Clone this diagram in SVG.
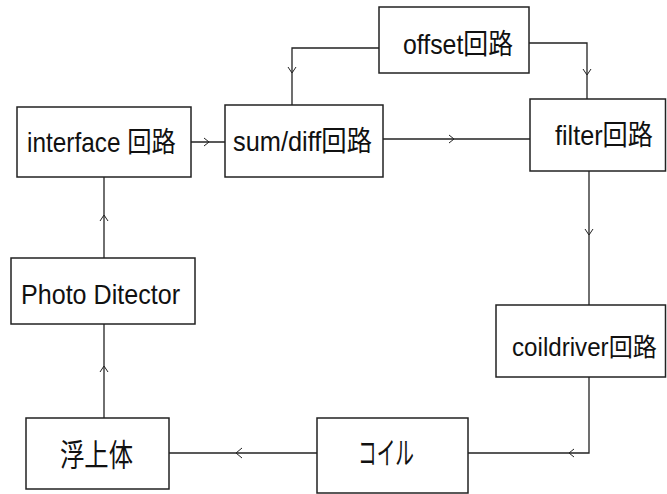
<svg xmlns="http://www.w3.org/2000/svg" width="667" height="494" viewBox="0 0 667 494">
<style>
.box{fill:#fff;stroke:#222;stroke-width:1.5}
.lbl{font-family:"Liberation Sans","Noto Sans CJK JP",sans-serif;font-size:28px;fill:#111;dominant-baseline:central}
.jp{font-size:31px}
.sm{font-size:25.5px}
.ln{fill:none;stroke:#222;stroke-width:1.3}
.hd{fill:none;stroke:#222;stroke-width:1}
</style>
<rect width="667" height="494" fill="#fff"/>
<g id="connectors">
<path class="ln" d="M191 142H225"/><path class="hd" d="M204 138L209 142L204 146"/>
<path class="ln" d="M292 105V48H379"/><path class="hd" d="M288 67L292 73L296 67"/>
<path class="ln" d="M529 43H587V99"/><path class="hd" d="M583 69L587 75L591 69"/>
<path class="ln" d="M383 139H530"/><path class="hd" d="M449 135L454 139L449 143"/>
<path class="ln" d="M589 171V305"/><path class="hd" d="M585 229L589 235L593 229"/>
<path class="ln" d="M589 377V453H468"/><path class="hd" d="M574 449L569 453L574 457"/>
<path class="ln" d="M317 453H169"/><path class="hd" d="M242 448L236 453L242 458"/>
<path class="ln" d="M104 418V324"/><path class="hd" d="M100 372L104 366L108 372"/>
<path class="ln" d="M104 258V177"/><path class="hd" d="M100 221L104 215L108 221"/>
</g>
<g id="interface"><rect class="box" x="17" y="107" width="174" height="70"/><text class="lbl" x="27" y="142" textLength="149" lengthAdjust="spacingAndGlyphs">interface 回路</text></g>
<g id="sumdiff"><rect class="box" x="225" y="105" width="158" height="72"/><text class="lbl" x="233" y="141" textLength="139" lengthAdjust="spacingAndGlyphs">sum/diff回路</text></g>
<g id="offset"><rect class="box" x="379" y="7" width="150" height="66"/><text class="lbl" x="403" y="44" textLength="110" lengthAdjust="spacingAndGlyphs">offset回路</text></g>
<g id="filter"><rect class="box" x="530" y="99" width="135.5" height="72"/><text class="lbl" x="555" y="135" textLength="98" lengthAdjust="spacingAndGlyphs">filter回路</text></g>
<g id="coildriver"><rect class="box" x="496" y="305" width="169.5" height="72"/><text class="lbl sm" x="512" y="347" textLength="145" lengthAdjust="spacingAndGlyphs">coildriver回路</text></g>
<g id="coil"><rect class="box" x="317" y="418" width="151" height="75"/><text class="lbl jp" x="358" y="453" textLength="56" lengthAdjust="spacingAndGlyphs">コイル</text></g>
<g id="floater"><rect class="box" x="26" y="418" width="143" height="71"/><text class="lbl jp" x="60" y="455" textLength="73" lengthAdjust="spacingAndGlyphs">浮上体</text></g>
<g id="photo"><rect class="box" x="11" y="258" width="184" height="66"/><text class="lbl" x="21" y="294" textLength="159" lengthAdjust="spacingAndGlyphs">Photo Ditector</text></g>
</svg>
